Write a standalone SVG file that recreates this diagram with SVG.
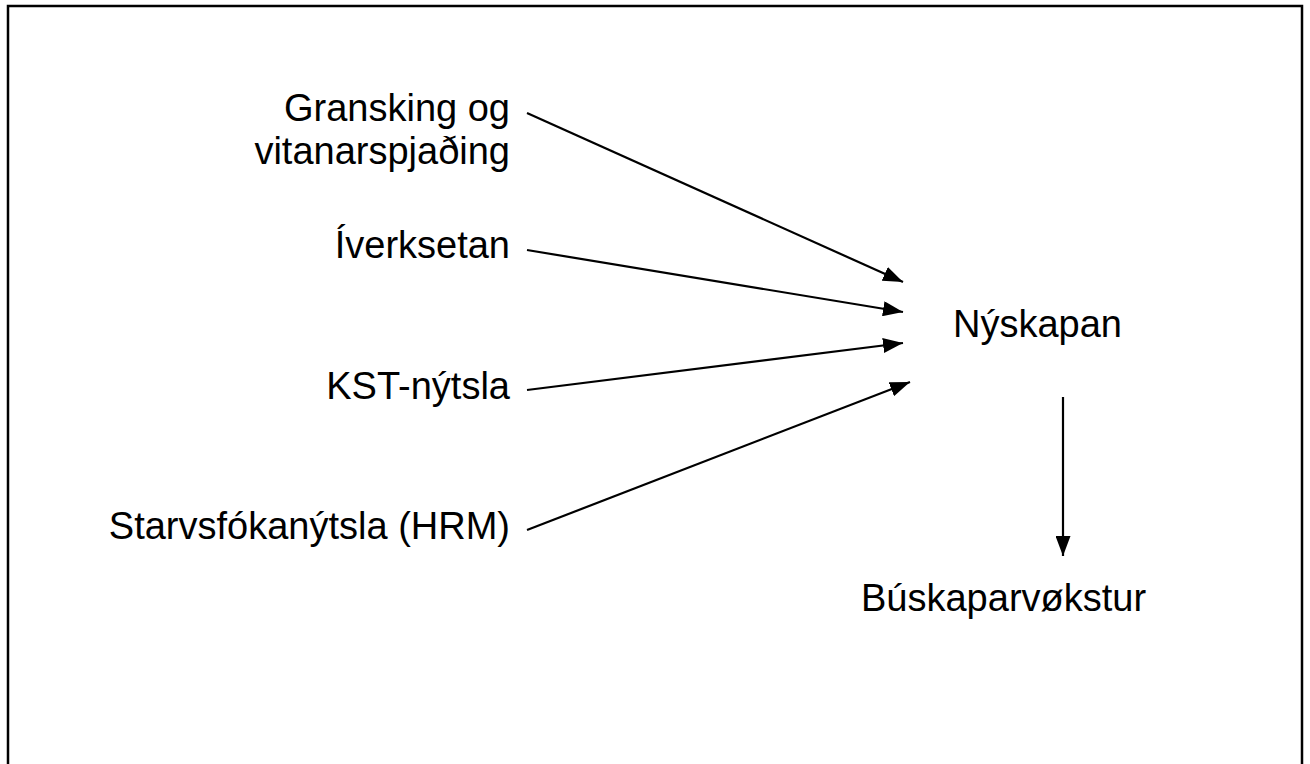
<svg xmlns="http://www.w3.org/2000/svg" width="1310" height="764" viewBox="0 0 1310 764">
<style>
text{font-family:"Liberation Sans",Arial,sans-serif;font-size:38px;fill:#000}
.r{text-anchor:end}
.c{stroke:#000;stroke-width:2.2;fill:none;marker-end:url(#ah)}
</style>
<defs>
<marker id="ah" markerUnits="userSpaceOnUse" markerWidth="20" markerHeight="15" refX="20" refY="7.5" orient="auto">
<path d="M0,0 L20,7.5 L0,15 z" fill="#000"/>
</marker>
</defs>
<rect width="1310" height="764" fill="#fff"/>
<rect id="frame" x="8" y="6" width="1294" height="800" fill="none" stroke="#000" stroke-width="2.5"/>
<g id="n1"><text class="r" x="510" y="121">Gransking og</text><text class="r" x="510" y="164">vitanarspjaðing</text></g>
<g id="n2"><text class="r" x="510" y="258">Íverksetan</text></g>
<g id="n3"><text class="r" x="510" y="399">KST-nýtsla</text></g>
<g id="n4"><text class="r" x="510" y="539">Starvsfókanýtsla (HRM)</text></g>
<g id="n5"><text x="953" y="337">Nýskapan</text></g>
<g id="n6"><text x="861" y="611">Búskaparvøkstur</text></g>
<g id="connectors">
<line class="c" x1="527" y1="113" x2="903" y2="282"/>
<line class="c" x1="527" y1="250" x2="903" y2="312"/>
<line class="c" x1="527" y1="390" x2="903" y2="343"/>
<line class="c" x1="527" y1="530" x2="910" y2="382"/>
<line class="c" x1="1063" y1="397" x2="1063" y2="556"/>
</g>
</svg>
